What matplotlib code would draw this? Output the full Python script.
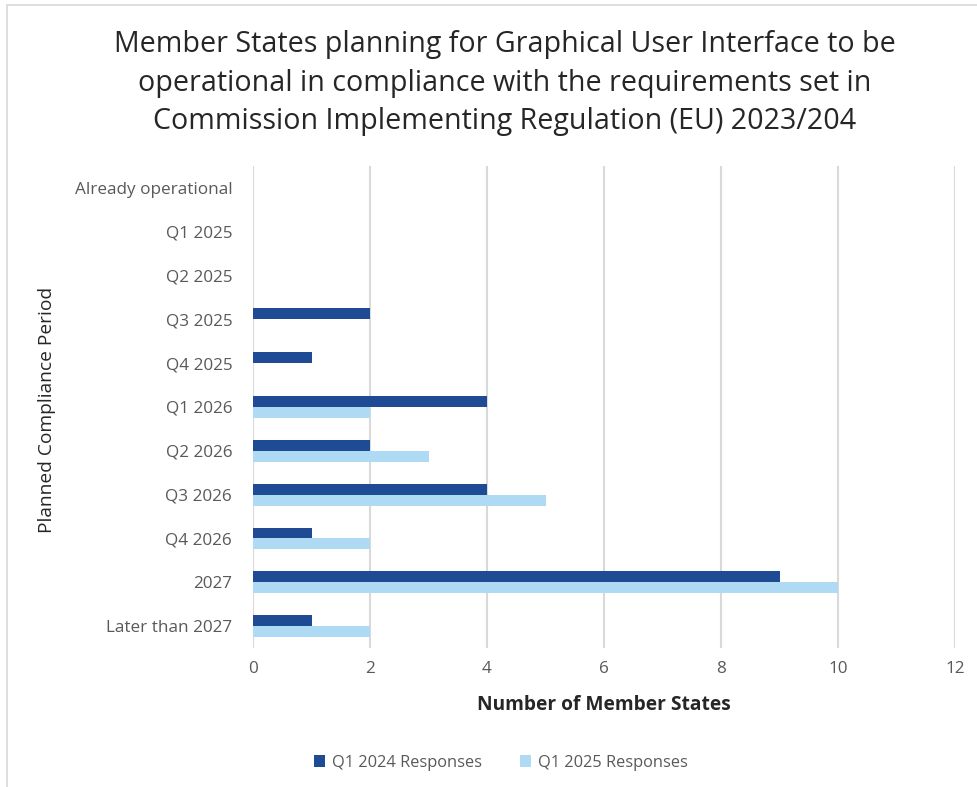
import matplotlib.pyplot as plt
import numpy as np
from matplotlib.patches import Rectangle

plt.rcParams['font.family'] = ['Open Sans', 'DejaVu Sans']

categories = ["Already operational", "Q1 2025", "Q2 2025", "Q3 2025", "Q4 2025",
              "Q1 2026", "Q2 2026", "Q3 2026", "Q4 2026", "2027", "Later than 2027"]
q1_2024 = [0, 0, 0, 2, 1, 4, 2, 4, 1, 9, 1]
q1_2025 = [0, 0, 0, 0, 0, 2, 3, 5, 2, 10, 2]

dark = "#1F4A94"
light = "#AEDAF3"
grey_txt = "#595959"

fig = plt.figure(figsize=(9.78, 7.87), dpi=100)
ax = fig.add_axes([0.2587, 0.1766, 0.7178, 0.6125])

y = np.arange(len(categories))
h = 0.25
ax.barh(y - h / 2, q1_2024, height=h, color=dark, label="Q1 2024 Responses", zorder=3)
ax.barh(y + h / 2, q1_2025, height=h, color=light, label="Q1 2025 Responses", zorder=3)

ax.set_xlim(0, 12)
ax.set_xticks(range(0, 13, 2))
ax.set_ylim(len(categories) - 0.5, -0.5)
ax.set_yticks(y)
ax.set_yticklabels(categories)
ax.tick_params(axis='both', length=0, colors=grey_txt, labelsize=12.3)
ax.tick_params(axis='x', pad=9)
ax.tick_params(axis='y', pad=15)
ax.grid(axis='x', color="#D9D9D9", linewidth=1.5, zorder=0)
for s in ax.spines.values():
    s.set_visible(False)

ax.set_xlabel("Number of Member States", fontsize=13.8, fontweight='bold', color="#262626", labelpad=13)
fig.text(0.048, 0.479, "Planned Compliance Period", rotation=90, fontsize=13.8,
         color="#262626", ha='center', va='center')

fig.text(0.516, 0.8945, "Member States planning for Graphical User Interface to be\n"
         "operational in compliance with the requirements set in\n"
         "Commission Implementing Regulation (EU) 2023/204",
         ha='center', va='center', fontsize=20.6, color="#262626", linespacing=1.42)

fig.legend(loc='center', bbox_to_anchor=(0.512, 0.031), ncol=2, frameon=False,
           fontsize=11.8, labelcolor=grey_txt, handlelength=0.7, handleheight=0.7,
           columnspacing=2.3, handletextpad=0.4)

fig.patches.append(Rectangle((7 / 978, -0.05), 1.1, 1 - 5 / 787 + 0.05,
                             transform=fig.transFigure, fill=False,
                             edgecolor="#D9D9D9", linewidth=1.2))

fig.savefig("out.png", dpi=100)
